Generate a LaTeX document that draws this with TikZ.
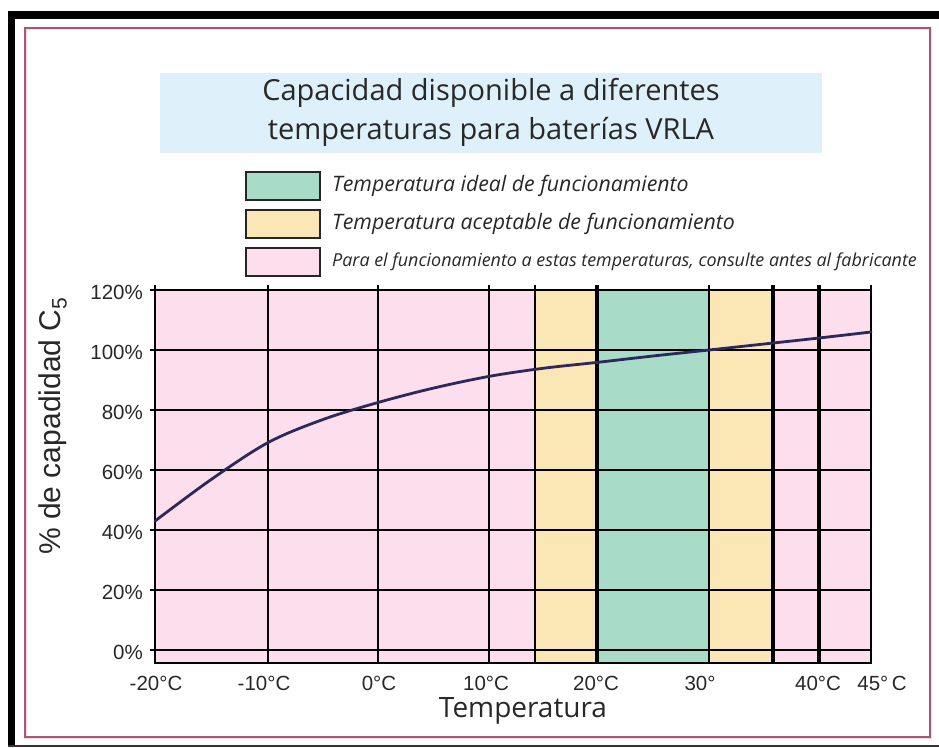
\documentclass[tikz,border=0pt]{standalone}
\usepackage{fontspec}
\setmainfont{Liberation Sans}
\newfontfamily\titlefont{Open Sans}
\newfontfamily\legfont{Open Sans}
\usetikzlibrary{calc}
\definecolor{pinkz}{RGB}{252,222,236}
\definecolor{yellowz}{RGB}{251,231,182}
\definecolor{greenz}{RGB}{168,219,200}
\definecolor{titlebg}{RGB}{222,240,250}
\definecolor{framec}{RGB}{160,90,120}
\definecolor{haloc}{RGB}{245,215,230}
\definecolor{curvec}{RGB}{45,40,90}
\definecolor{txtc}{RGB}{40,40,40}
\tikzset{
  gridline/.style={line width=2.2pt, black},
  thickline/.style={line width=3.6pt, black},
  ticklab/.style={font=\fontsize{20.5}{22}\selectfont, text=txtc, inner sep=0pt},
  legbox/.style={draw=black!85, line width=2pt, minimum width=74pt, minimum height=28pt, inner sep=0pt},
  legtext/.style={anchor=west, inner sep=0pt, text=txtc},
}
\begin{document}
\begin{tikzpicture}[x=1pt,y=-1pt]
\useasboundingbox (0,0) rectangle (939,747);
\fill[white] (0,0) rectangle (939,747);
% black borders
\fill[black] (8,11) rectangle (939,19);
\fill[black] (8,11) rectangle (15,746);
\draw[black!80, line width=1.5pt] (8,746) -- (939,746);
% frame
\draw[haloc, line width=3pt] (25,28) rectangle (930,737);
\draw[framec, line width=1.3pt] (25,28) rectangle (930,737);
% title
\fill[titlebg] (160,73) rectangle (822,153);
\node[font=\titlefont\fontsize{29}{32}\selectfont, text=txtc, inner sep=0pt] (t1) at (491,93) {Capacidad disponible a diferentes};
\node[font=\titlefont\fontsize{29}{32}\selectfont, text=txtc, inner sep=0pt] (t2) at (491,132) {temperaturas para baterías VRLA};
% legend
\node[legbox, fill=greenz] (l1) at (283,186) {};
\node[legbox, fill=yellowz] (l2) at (283,224) {};
\node[legbox, fill=pinkz] (l3) at (283,262) {};
\node[legtext, font=\legfont\itshape\fontsize{21.3}{24}\selectfont] (lt1) at (332,186) {Temperatura ideal de funcionamiento};
\node[legtext, font=\legfont\itshape\fontsize{21.3}{24}\selectfont] (lt2) at (332,224) {Temperatura aceptable de funcionamiento};
\node[legtext, font=\legfont\itshape\fontsize{17.9}{20}\selectfont] (lt3) at (332,262) {Para el funcionamiento a estas temperaturas, consulte antes al fabricante};
% plot fills
\fill[pinkz] (155,290) rectangle (871,663);
\fill[yellowz] (535,290) rectangle (597,663);
\fill[greenz] (597,290) rectangle (709,663);
\fill[yellowz] (709,290) rectangle (773,663);
% horizontal grid
\foreach \yy in {290,350,410,470,530,590,650} {
  \draw[gridline] (150,\yy) -- (871,\yy);
}
\draw[gridline] (155,663) -- (871,663);
% vertical grid
\foreach \xx in {155,268,378,489,535,709,871} {
  \draw[gridline] (\xx,285) -- (\xx,664);
}
\foreach \xx in {597,773,819} {
  \draw[thickline] (\xx,285) -- (\xx,664);
}
% curve (y = 650 - 3*percent)
\draw[curvec, line width=2.8pt, line cap=round] plot[smooth, tension=0.55] coordinates {(155,521) (211,479.6) (268,442.6) (323,419.5) (378,402.5) (433,388.2) (489,376.4) (543,368.3) (597,362.4) (653,356) (709,350) (764,344) (819,338) (871,332)};
% y tick labels
\node[ticklab, anchor=east] (y120) at (143,292) {120\%};
\node[ticklab, anchor=east] (y100) at (143,352) {100\%};
\node[ticklab, anchor=east] (y80) at (143,412) {80\%};
\node[ticklab, anchor=east] (y60) at (143,472) {60\%};
\node[ticklab, anchor=east] (y40) at (143,532) {40\%};
\node[ticklab, anchor=east] (y20) at (143,592) {20\%};
\node[ticklab, anchor=east] (y0) at (143,652) {0\%};
% x tick labels
\node[ticklab] (xm20) at (156,683) {-20°C};
\node[ticklab] (xm10) at (264,683) {-10°C};
\node[ticklab] (x0) at (379,683) {0°C};
\node[ticklab] (x10) at (486,683) {10°C};
\node[ticklab] (x20) at (596,683) {20°C};
\node[ticklab] (x30) at (700,683) {30°};
\node[ticklab] (x40) at (818,683) {40°C};
\node[ticklab] (x45) at (882,683) {45°\,C};
% axis titles
\node[font=\titlefont\fontsize{28}{30}\selectfont, text=txtc, inner sep=0pt] (xt) at (523,711) {Temperatura};
\node[font=\fontsize{30}{32}\selectfont, text=txtc, inner sep=0pt, rotate=90] (yt) at (53,426) {\% de capadidad C\textsubscript{5}};
\end{tikzpicture}
\end{document}
